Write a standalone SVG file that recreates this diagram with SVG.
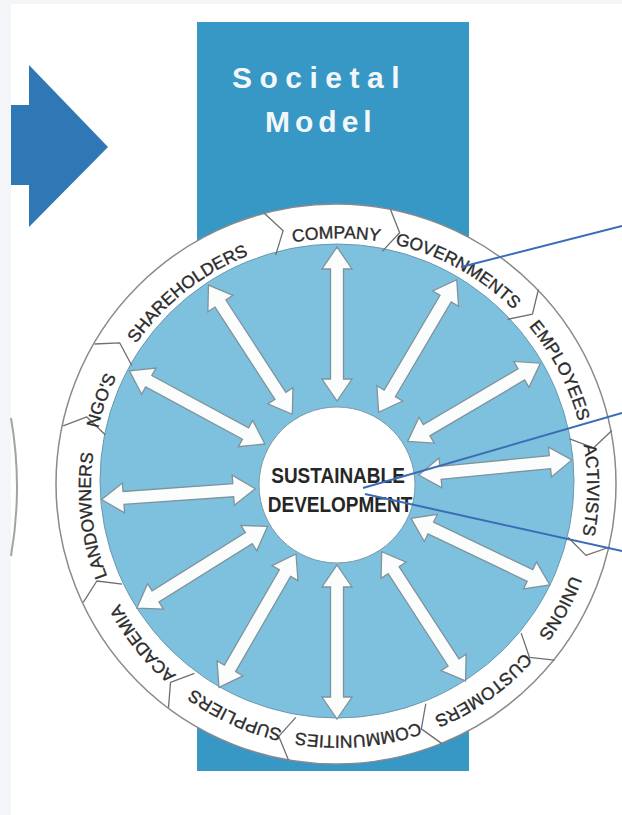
<svg xmlns="http://www.w3.org/2000/svg" xmlns:xlink="http://www.w3.org/1999/xlink" width="622" height="815" viewBox="0 0 622 815">
  <style>
    .lbl { font-family: "Liberation Sans", Arial, sans-serif; font-size: 17.5px; fill: #2b2b2b; stroke: #2b2b2b; stroke-width: 0.35px; text-anchor: middle; }
    .title { font-family: "Liberation Sans", Arial, sans-serif; font-size: 30px; font-weight: bold; fill: #f3f7fa; }
    .center { font-family: "Liberation Sans", Arial, sans-serif; font-size: 19px; font-weight: bold; fill: #262626; text-anchor: middle; }
    .arr { fill: #fbfcfc; stroke: #7f939c; stroke-width: 1.3; stroke-linejoin: miter; }
    .div { fill: none; stroke: #6f6f6f; stroke-width: 1.3; stroke-linejoin: round; }
    .call { stroke: #3b6db5; stroke-width: 2; fill: none; }
  </style>
  <defs>
    <path id="dbl" d="M82,0 L104,-15 L104,-6.5 L214,-6.5 L214,-15 L236,0 L214,15 L214,6.5 L104,6.5 L104,15 Z"/>
    <path id="ring" d="M94.77,443.93 A248,248 0 1,1 583.23,530.07 A248,248 0 1,1 94.77,443.93"/>
  </defs>

  <!-- background -->
  <rect x="0" y="0" width="622" height="815" fill="#ffffff"/>
  <rect x="0" y="0" width="622" height="4" fill="#f3f5f8"/>
  <rect x="0" y="0" width="11" height="815" fill="#f3f5f8"/>

  <!-- left arrow -->
  <g id="left-arrow">
    <polygon points="11,105 29,105 29,65 108,147 29,227 29,185 11,185" fill="#2f77b5"/>
  </g>

  <!-- partial circle at left -->
  <g id="left-arc">
    <path d="M11,418 Q23,487 11,556" fill="none" stroke="#a3a3a3" stroke-width="2"/>
  </g>

  <!-- societal model panel -->
  <g id="panel">
    <rect x="197" y="22" width="272" height="749" fill="#3797c5"/>
    <text class="title" x="232" y="88" letter-spacing="7.5">Societal</text>
    <text class="title" x="265" y="132" letter-spacing="5">Model</text>
  </g>

  <!-- wheel -->
  <g id="wheel">
    <circle cx="336" cy="484" r="280" fill="#ffffff" stroke="#8a8a8a" stroke-width="1.5"/>
    <circle cx="337" cy="481" r="237" fill="#7ec1df" stroke="#6a98ad" stroke-width="1"/>
  </g>

  <!-- connectors: double-headed arrows -->
  <g id="connectors">
    <use href="#dbl" class="arr" transform="translate(337,483) rotate(-90)"/>
    <use href="#dbl" class="arr" transform="translate(337,483) rotate(-59.5)"/>
    <use href="#dbl" class="arr" transform="translate(337,483) rotate(-30.5)"/>
    <use href="#dbl" class="arr" transform="translate(337,483) rotate(-5.6)"/>
    <use href="#dbl" class="arr" transform="translate(337,483) rotate(25.6)"/>
    <use href="#dbl" class="arr" transform="translate(337,483) rotate(57)"/>
    <use href="#dbl" class="arr" transform="translate(337,483) rotate(90)"/>
    <use href="#dbl" class="arr" transform="translate(337,483) rotate(120)"/>
    <use href="#dbl" class="arr" transform="translate(337,483) rotate(148)"/>
    <use href="#dbl" class="arr" transform="translate(337,483) rotate(176)"/>
    <use href="#dbl" class="arr" transform="translate(337,483) rotate(-151.6)"/>
    <use href="#dbl" class="arr" transform="translate(337,483) rotate(-123)"/>
  </g>

  <!-- center node -->
  <g id="sustainable-development">
    <circle cx="337" cy="485" r="78" fill="#ffffff" stroke="#7a98a6" stroke-width="1"/>
    <text class="center" transform="translate(338,483) scale(1,1.17)">SUSTAINABLE</text>
    <text class="center" transform="translate(340,512) scale(1,1.17)">DEVELOPMENT</text>
  </g>

  <!-- ring segment dividers -->
  <g id="dividers">
    <polyline class="div" points="275.66,255.08 283.15,230.67 264.53,213.54"/>
    <polyline class="div" points="382.22,251.36 399.65,232.69 390.42,209.15"/>
    <polyline class="div" points="507.47,319.36 532.47,314.07 538.40,289.48"/>
    <polyline class="div" points="569.64,438.78 593.49,447.95 611.85,430.58"/>
    <polyline class="div" points="567.93,537.33 585.98,555.38 609.83,547.00"/>
    <polyline class="div" points="521.17,633.14 529.46,657.30 554.59,660.20"/>
    <polyline class="div" points="425.78,703.74 421.33,728.88 441.89,743.62"/>
    <polyline class="div" points="295.86,717.40 278.72,736.37 288.39,759.74"/>
    <polyline class="div" points="194.37,673.27 170.51,682.39 168.50,707.61"/>
    <polyline class="div" points="122.21,584.16 96.86,581.02 83.24,602.33"/>
    <polyline class="div" points="105.19,434.73 86.83,416.97 63.13,425.79"/>
    <polyline class="div" points="131.76,365.50 119.78,342.95 94.51,344.00"/>
  </g>

  <!-- stakeholder nodes (ring labels) -->
  <g id="ngos"><text class="lbl"><textPath href="#ring" startOffset="43.3">NGO'S</textPath></text></g>
  <g id="shareholders"><text class="lbl"><textPath href="#ring" startOffset="181.8">SHAREHOLDERS</textPath></text></g>
  <g id="company"><text class="lbl"><textPath href="#ring" startOffset="344.1">COMPANY</textPath></text></g>
  <g id="governments"><text class="lbl"><textPath href="#ring" startOffset="471.8">GOVERNMENTS</textPath></text></g>
  <g id="employees"><text class="lbl"><textPath href="#ring" startOffset="616.8">EMPLOYEES</textPath></text></g>
  <g id="activists"><text class="lbl"><textPath href="#ring" startOffset="740.2">ACTIVISTS</textPath></text></g>
  <g id="unions"><text class="lbl"><textPath href="#ring" startOffset="861.4">UNIONS</textPath></text></g>
  <g id="customers"><text class="lbl"><textPath href="#ring" startOffset="973.9">CUSTOMERS</textPath></text></g>
  <g id="communities"><text class="lbl"><textPath href="#ring" startOffset="1108.1">COMMUNITIES</textPath></text></g>
  <g id="suppliers"><text class="lbl"><textPath href="#ring" startOffset="1233.6">SUPPLIERS</textPath></text></g>
  <g id="academia"><text class="lbl"><textPath href="#ring" startOffset="1350.5">ACADEMIA</textPath></text></g>
  <g id="landowners"><text class="lbl"><textPath href="#ring" startOffset="1489.0">LANDOWNERS</textPath></text></g>

  <!-- callout lines -->
  <g id="callouts">
    <line class="call" x1="461" y1="267" x2="622" y2="226"/>
    <line class="call" x1="363" y1="488" x2="622" y2="413"/>
    <line class="call" x1="365" y1="494" x2="622" y2="551"/>
  </g>
</svg>
